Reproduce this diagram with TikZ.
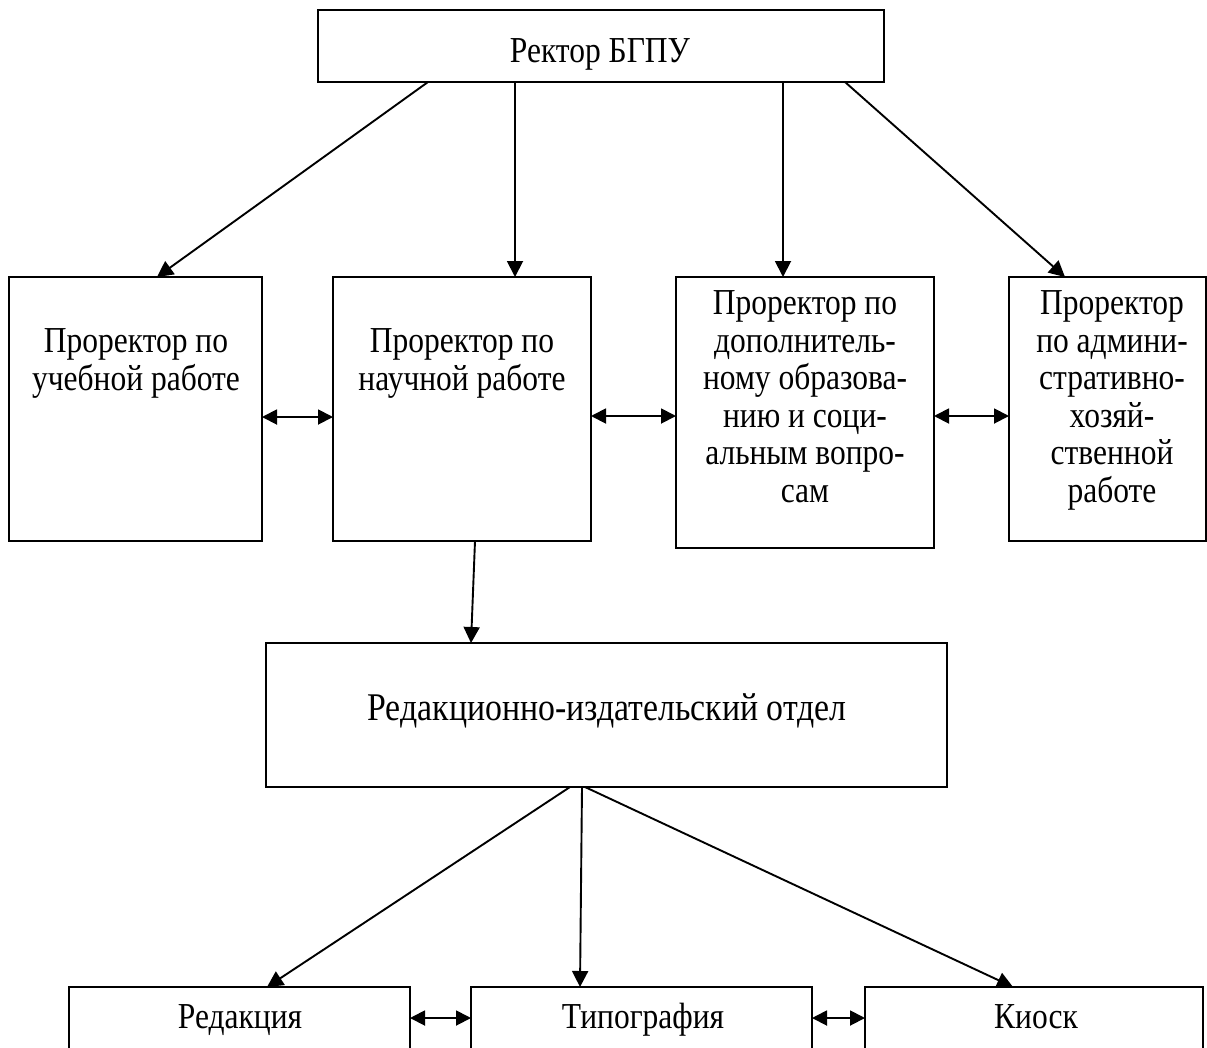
\documentclass[tikz,border=0pt]{standalone}
\usepackage{graphicx}
\usepackage{fontspec}
\setmainfont{Liberation Serif}
\usetikzlibrary{arrows.meta,calc}
\newcommand\talltext[1]{\scalebox{1}[1.16]{#1}}
\newcommand\lines[1]{\talltext{\begin{tabular}{@{}c@{}}#1\end{tabular}}}
\tikzset{
  box/.style={draw, line width=1.9pt, rectangle, inner sep=0pt, outer sep=0pt},
  txt/.style={inner sep=0pt, align=center, font=\fontsize{31.5}{32.3}\selectfont},
  arr/.style={line width=1.9pt, -{Triangle[length=16pt,width=16pt]}},
  dbl/.style={line width=1.9pt, {Triangle[length=15pt,width=15pt]}-{Triangle[length=15pt,width=15pt]}}
}
\begin{document}
\begin{tikzpicture}[x=1pt,y=-1pt]
\useasboundingbox (0,0) rectangle (1207,1047);
\fill[white] (0,0) rectangle (1207,1047);
% boxes
\node[box, minimum width=566pt, minimum height=72pt] (top) at (601,46) {};
\node[box, minimum width=253pt, minimum height=264pt] (b1) at (135.5,409) {};
\node[box, minimum width=258pt, minimum height=264pt] (b2) at (462,409) {};
\node[box, minimum width=258pt, minimum height=271pt] (b3) at (805,412.5) {};
\node[box, minimum width=197pt, minimum height=264pt] (b4) at (1107.5,409) {};
\node[box, minimum width=681pt, minimum height=144pt] (red) at (606.5,715) {};
\node[box, minimum width=341pt, minimum height=83pt] (r1) at (239.5,1028.5) {};
\node[box, minimum width=341pt, minimum height=83pt] (r2) at (641.5,1028.5) {};
\node[box, minimum width=338pt, minimum height=83pt] (r3) at (1034,1028.5) {};
% texts
\node[txt, anchor=base] (topt) at (600,62) {\talltext{Ректор БГПУ}};
\node[txt] (b1t) at (136,364) {\lines{Проректор по\\учебной работе}};
\node[txt] (b2t) at (462,364) {\lines{Проректор по\\научной работе}};
\node[txt] (b3t) at (805,401) {\lines{Проректор по\\дополнитель-\\ному образова-\\нию и соци-\\альным вопро-\\сам}};
\node[txt] (b4t) at (1112,401) {\lines{Проректор\\по админи-\\стративно-\\хозяй-\\ственной\\работе}};
\node[txt, anchor=base, font=\fontsize{33.8}{34}\selectfont] (redt) at (607,720) {\talltext{Редакционно-издательский отдел}};
\node[txt, anchor=base] (r1t) at (240,1028) {\talltext{Редакция}};
\node[txt, anchor=base] (r2t) at (643,1028) {\talltext{Типография}};
\node[txt, anchor=base] (r3t) at (1036,1028) {\talltext{Киоск}};
% connectors from top
\draw[arr] ([xshift=110pt]top.south west) -- ([xshift=148pt]b1.north west);
\draw[arr] ([xshift=197pt]top.south west) -- ([xshift=182pt]b2.north west);
\draw[arr] ([xshift=465pt]top.south west) -- ([xshift=107pt]b3.north west);
\draw[arr] ([xshift=527pt]top.south west) -- ([xshift=56pt]b4.north west);
\draw[arr] ([xshift=142pt]b2.south west) -- ([xshift=205pt]red.north west);
\draw[arr] ([xshift=304pt]red.south west) -- ([xshift=198pt]r1.north west);
\draw[arr] ([xshift=316pt]red.south west) -- ([xshift=109pt]r2.north west);
\draw[arr] ([xshift=319pt]red.south west) -- ([xshift=148pt]r3.north west);
% double arrows
\coordinate (ya) at (0,417);
\coordinate (yb) at (0,416);
\coordinate (yc) at (0,1018);
\draw[dbl] (b1.east |- ya) -- (b2.west |- ya);
\draw[dbl] (b2.east |- yb) -- (b3.west |- yb);
\draw[dbl] (b3.east |- yb) -- (b4.west |- yb);
\draw[dbl] (r1.east |- yc) -- (r2.west |- yc);
\draw[dbl] (r2.east |- yc) -- (r3.west |- yc);
\end{tikzpicture}
\end{document}
